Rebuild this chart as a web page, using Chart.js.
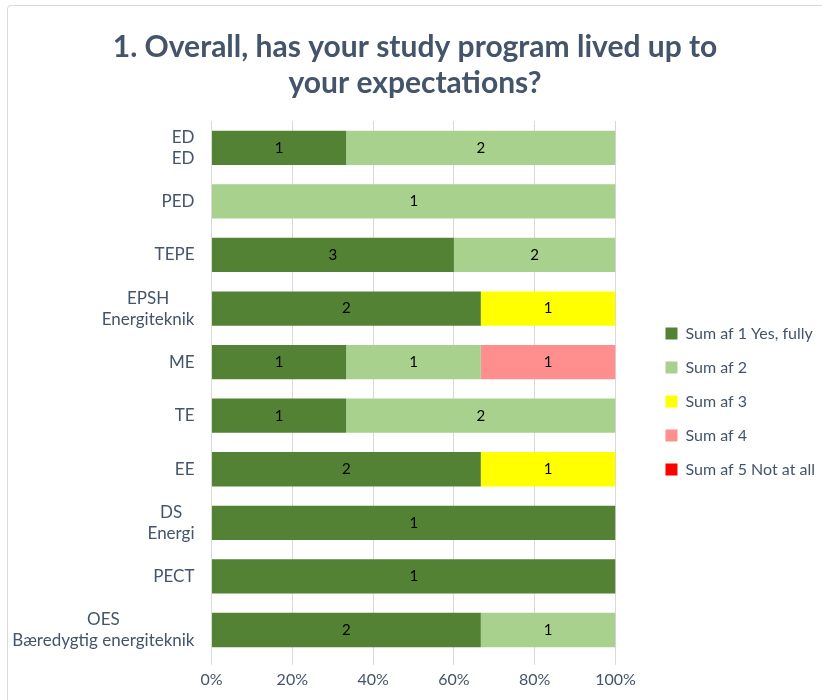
<!DOCTYPE html>
<html>
<head>
<meta charset="utf-8">
<script src="https://cdn.jsdelivr.net/npm/chart.js@4/dist/chart.umd.min.js"></script>
<style>
  body { margin: 0; background: #fff; }
  #wrap { position: relative; width: 822px; height: 700px; overflow: hidden; }
  #frame { position: absolute; left: 7px; top: 5px; width: 900px; height: 900px;
           border: 1px solid #D9D9D9; border-radius: 4px; box-sizing: border-box; }
  canvas { position: absolute; left: 0; top: 0; }
</style>
</head>
<body>
<div id="wrap">
  <div id="frame"></div>
  <canvas id="c" width="822" height="700"></canvas>
</div>
<script>
// categories (top to bottom)
const programs = [
  ['ED', 'ED'],
  'PED',
  'TEPE',
  ['EPSH', 'Energiteknik'],
  'ME',
  'TE',
  'EE',
  ['DS', 'Energi'],
  'PECT',
  ['OES', 'Bæredygtig energiteknik']
];

// answer counts per program
const answer1 = [1, 0, 3, 2, 1, 1, 2, 1, 1, 2];
const answer2 = [2, 1, 2, 0, 1, 2, 0, 0, 0, 1];
const answer3 = [0, 0, 0, 1, 0, 0, 1, 0, 0, 0];
const answer4 = [0, 0, 0, 0, 1, 0, 0, 0, 0, 0];
const answer5 = [0, 0, 0, 0, 0, 0, 0, 0, 0, 0];

const seriesNames = ['Sum af 1 Yes, fully', 'Sum af 2', 'Sum af 3', 'Sum af 4', 'Sum af 5 Not at all'];
const seriesColors = ['#548235', '#A9D18E', '#FFFF00', '#FF8F8F', '#FF0000'];
const xTicks = [0, 20, 40, 60, 80, 100];

const textColor = '#44546A';
const font = 'Lato, "Open Sans", sans-serif';

const allCounts = [answer1, answer2, answer3, answer4, answer5];
const totals = programs.map((p, i) => allCounts.reduce((s, a) => s + a[i], 0));

const datasets = allCounts.map((counts, k) => ({
  label: seriesNames[k],
  data: counts.map((v, i) => v / totals[i] * 100),
  counts: counts,
  backgroundColor: seriesColors[k],
  borderWidth: 0,
  categoryPercentage: 1,
  barPercentage: 0.64
}));

// count labels in the middle of each segment
const countLabels = {
  id: 'countLabels',
  afterDatasetsDraw(chart) {
    const ctx = chart.ctx;
    ctx.save();
    ctx.font = '15px ' + font;
    ctx.fillStyle = '#000';
    ctx.textAlign = 'center';
    ctx.textBaseline = 'middle';
    chart.data.datasets.forEach((ds, k) => {
      chart.getDatasetMeta(k).data.forEach((bar, i) => {
        const n = ds.counts[i];
        if (!n) return;
        const p = bar.getProps(['x', 'y', 'base']);
        ctx.fillText(String(n), (p.x + p.base) / 2, p.y);
      });
    });
    ctx.restore();
  }
};

// category labels: lines centered inside a right-aligned block
const categoryLabels = {
  id: 'categoryLabels',
  afterDraw(chart) {
    const ctx = chart.ctx;
    const y = chart.scales.y;
    ctx.save();
    ctx.font = '17px ' + font;
    ctx.fillStyle = textColor;
    ctx.textAlign = 'center';
    ctx.textBaseline = 'middle';
    const right = y.right - 17;
    const lh = 21;
    programs.forEach((lab, i) => {
      const lines = Array.isArray(lab) ? lab : [lab];
      const w = Math.max(...lines.map(l => ctx.measureText(l).width));
      const cx = right - w / 2;
      const cy = y.getPixelForTick(i);
      lines.forEach((l, j) => {
        ctx.fillText(l, cx, cy + (j - (lines.length - 1) / 2) * lh);
      });
    });
    ctx.restore();
  }
};

// more room between plot and legend, legend items pushed right
const legendGap = {
  id: 'legendGap',
  beforeInit(chart) {
    const fit = chart.legend.fit;
    chart.legend.fit = function () {
      fit.call(this);
      this.width += 29;
    };
  },
  afterLayout(chart) {
    chart.legend.left += 32;
  }
};

new Chart(document.getElementById('c'), {
  type: 'bar',
  data: { labels: programs, datasets: datasets },
  options: {
    indexAxis: 'y',
    responsive: false,
    animation: false,
    layout: { padding: { left: 8, right: 0, top: 14, bottom: 6 } },
    scales: {
      x: {
        stacked: true,
        min: 0,
        max: 100,
        afterBuildTicks(scale) { scale.ticks = xTicks.map(v => ({ value: v })); },
        grid: { color: '#D9D9D9', drawTicks: true, tickLength: 8 },
        border: { display: false },
        ticks: {
          color: textColor,
          font: { family: font, size: 16 },
          padding: 5,
          callback: v => v + '%'
        }
      },
      y: {
        stacked: true,
        grid: { display: false },
        border: { display: false },
        ticks: {
          color: 'rgba(0,0,0,0)',
          font: { family: font, size: 17, lineHeight: 1.24 },
          padding: 17
        }
      }
    },
    plugins: {
      title: {
        display: true,
        text: ['1. Overall, has your study program lived up to', 'your expectations?'],
        color: textColor,
        font: { family: font, size: 30, weight: 'bold', lineHeight: 1.2 },
        padding: { top: 15, bottom: 20 }
      },
      legend: {
        position: 'right',
        title: { display: true, text: ' ', font: { size: 16, lineHeight: 1.2 }, padding: { top: 38, bottom: 38 } },
        labels: {
          color: textColor,
          font: { family: font, size: 16 },
          boxWidth: 12,
          boxHeight: 12,
          padding: 18
        }
      },
      tooltip: { enabled: false }
    }
  },
  plugins: [countLabels, categoryLabels, legendGap]
});
</script>
</body>
</html>
